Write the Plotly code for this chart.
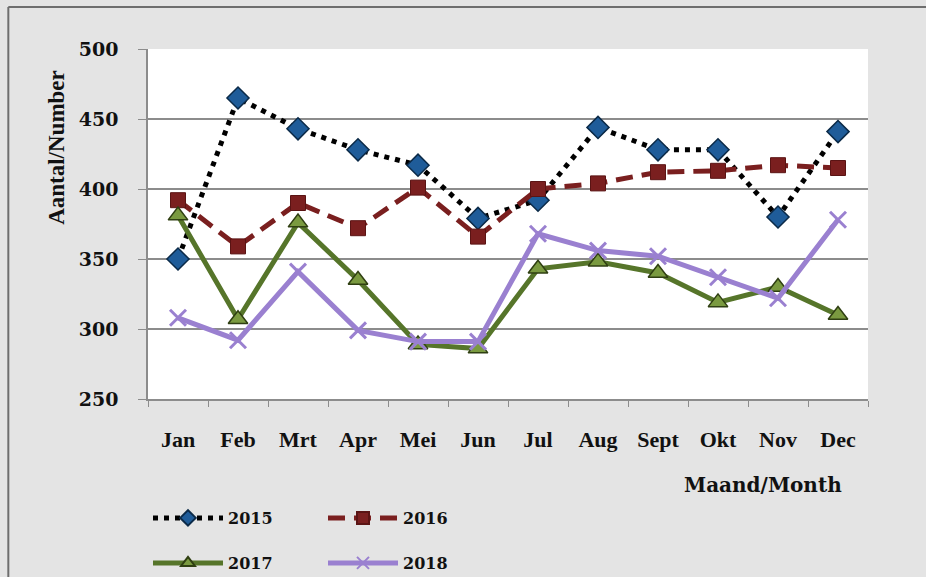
import plotly.graph_objects as go

months = ["Jan", "Feb", "Mrt", "Apr", "Mei", "Jun", "Jul", "Aug", "Sept", "Okt", "Nov", "Dec"]

y2015 = [350, 465, 443, 428, 417, 379, 392, 444, 428, 428, 380, 441]
y2016 = [392, 359, 390, 372, 401, 366, 400, 404, 412, 413, 417, 415]
y2017 = [381, 307, 376, 335, 289, 286, 343, 348, 340, 319, 330, 310]
y2018 = [308, 292, 341, 299, 291, 291, 368, 356, 352, 337, 322, 378]

years = ["2015", "2016", "2017", "2018"]

fig = go.Figure()

fig.add_trace(go.Scatter(
    x=months, y=y2015, name=years[0], mode="lines+markers",
    line=dict(color="#000000", width=5, dash="5px,6px"),
    marker=dict(symbol="diamond", size=17, color="#1f5c99",
                line=dict(color="#0b2a48", width=1.5)),
    legend="legend",
))
fig.add_trace(go.Scatter(
    x=months, y=y2016, name=years[1], mode="lines+markers",
    line=dict(color="#7a1f1f", width=5, dash="17px,9px"),
    marker=dict(symbol="square", size=15, color="#7a1f1f",
                line=dict(color="#5a1414", width=1)),
    legend="legend",
))
fig.add_trace(go.Scatter(
    x=months, y=y2017, name=years[2], mode="lines+markers",
    line=dict(color="#56752a", width=5),
    marker=dict(symbol="triangle-up", size=17, color="#7a9a40",
                line=dict(color="#2f3f12", width=1.5)),
    legend="legend2",
))
fig.add_trace(go.Scatter(
    x=months, y=y2018, name=years[3], mode="lines+markers",
    line=dict(color="#9a80d0", width=5),
    marker=dict(symbol="x-thin", size=16, color="#9a80d0",
                line=dict(color="#9a80d0", width=3)),
    legend="legend2",
))

grid_col = "#8c8c8c"
legend_font = dict(family="DejaVu Serif", size=16, color="#111111", weight="bold")
W, H = 926, 577

fig.update_layout(
    width=W, height=H,
    margin=dict(l=148, r=58, t=49, b=178),
    paper_bgcolor="#e4e4e4",
    plot_bgcolor="#ffffff",
    showlegend=True,
    xaxis=dict(
        type="category", range=[-0.5, 11.5],
        showgrid=False, showline=True, linecolor=grid_col, linewidth=1.5,
        ticks="outside", tickson="boundaries", ticklen=6, tickcolor=grid_col,
        tickfont=dict(family="Liberation Serif", size=22, color="#111111", weight="bold"),
        ticklabelstandoff=20,
    ),
    yaxis=dict(
        range=[250, 500], dtick=50, tick0=250,
        showgrid=True, gridcolor=grid_col, gridwidth=1.5,
        showline=True, linecolor=grid_col, linewidth=1.5,
        ticks="outside", ticklen=8, tickcolor=grid_col,
        tickfont=dict(family="DejaVu Serif", size=19, color="#111111", weight="bold"),
        ticklabelstandoff=16, zeroline=False,
    ),
    legend=dict(
        orientation="h", xref="container", yref="container",
        x=148 / W, xanchor="left", y=1 - 518 / H, yanchor="middle",
        font=legend_font, itemwidth=70, entrywidth=90, itemsizing="constant",
        bgcolor="rgba(0,0,0,0)", tracegroupgap=0,
    ),
    legend2=dict(
        orientation="h", xref="container", yref="container",
        x=148 / W, xanchor="left", y=1 - 563 / H, yanchor="middle",
        font=legend_font, itemwidth=70, entrywidth=90, itemsizing="constant",
        bgcolor="rgba(0,0,0,0)", tracegroupgap=0,
    ),
    annotations=[
        dict(text="Aantal/Number", xref="paper", yref="paper",
             x=-0.128, y=0.72, xanchor="center", yanchor="middle",
             textangle=-90, showarrow=False,
             font=dict(family="Liberation Serif", size=23, color="#111111", weight="bold")),
        dict(text="Maand/Month", xref="paper", yref="paper",
             x=0.854, y=-0.246, xanchor="center", yanchor="middle", showarrow=False,
             font=dict(family="DejaVu Serif", size=20, color="#111111", weight="bold")),
    ],
    shapes=[
        dict(type="line", xref="paper", yref="paper", x0=-0.194, x1=-0.194, y0=1.12, y1=-0.6,
             line=dict(color="#6e6e6e", width=2)),
        dict(type="line", xref="paper", yref="paper", x0=-0.194, x1=1.1, y0=1.12, y1=1.12,
             line=dict(color="#6e6e6e", width=2)),
    ],
)

fig.write_html("out.html")
